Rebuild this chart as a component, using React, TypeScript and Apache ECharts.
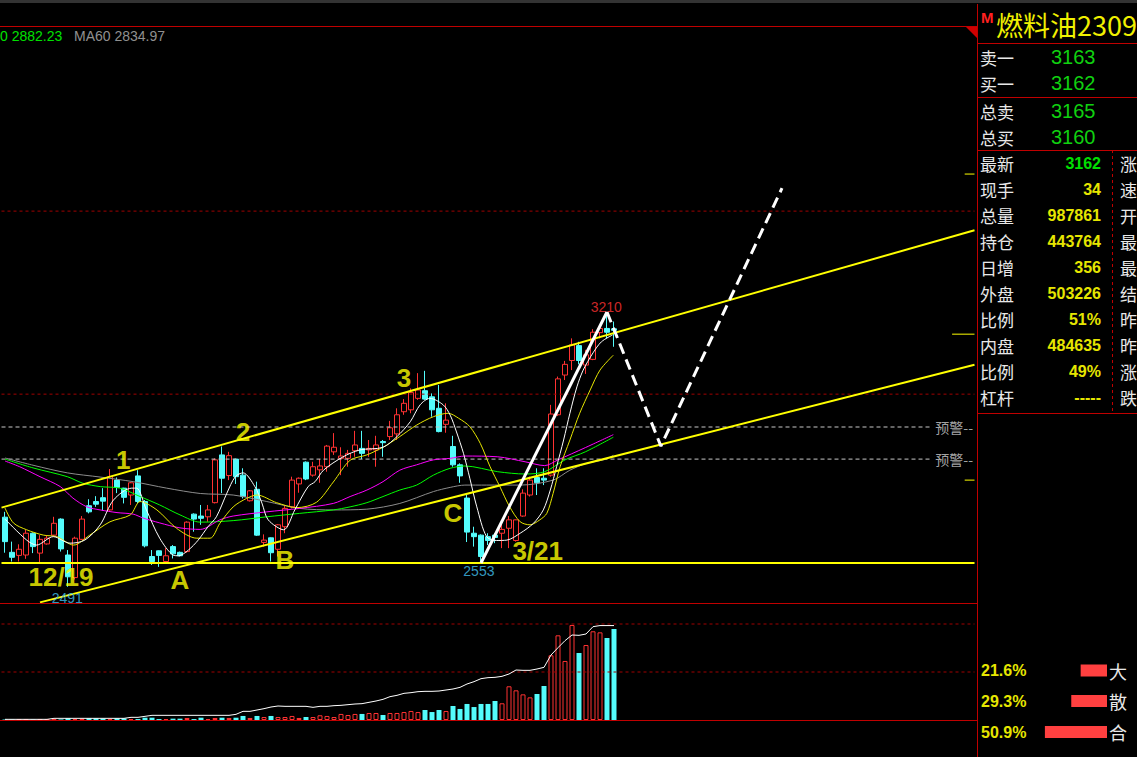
import React, { useEffect, useRef } from "react";
import * as echarts from "echarts";

// ---------- DATA ----------
// K-line candles: [open, close, low, high]
const candles: number[][] = [
  [2673, 2609, 2580, 2687], [2581, 2568, 2557, 2609], [2573, 2589, 2557, 2602], [2574, 2631, 2564, 2640],
  [2631, 2596, 2579, 2633], [2579, 2615, 2554, 2626], [2603, 2618, 2601, 2626], [2626, 2657, 2622, 2674],
  [2668, 2590, 2583, 2670], [2574, 2517, 2491, 2587], [2515, 2618, 2510, 2622], [2615, 2668, 2613, 2676],
  [2703, 2687, 2683, 2720], [2714, 2707, 2700, 2728], [2724, 2715, 2690, 2749], [2692, 2779, 2690, 2799],
  [2770, 2751, 2736, 2777], [2749, 2725, 2709, 2750], [2731, 2763, 2705, 2765], [2781, 2714, 2709, 2796],
  [2714, 2598, 2594, 2718], [2570, 2557, 2548, 2587], [2585, 2573, 2543, 2586], [2557, 2572, 2555, 2592],
  [2596, 2577, 2565, 2600], [2581, 2572, 2570, 2583], [2583, 2660, 2580, 2662], [2681, 2668, 2635, 2683],
  [2676, 2670, 2653, 2705], [2674, 2692, 2661, 2705], [2711, 2823, 2709, 2827], [2836, 2775, 2736, 2858],
  [2782, 2834, 2770, 2844], [2825, 2779, 2760, 2826], [2783, 2727, 2722, 2801], [2716, 2742, 2714, 2744],
  [2746, 2626, 2624, 2766], [2607, 2613, 2596, 2628], [2619, 2580, 2557, 2620], [2589, 2653, 2570, 2655],
  [2648, 2696, 2631, 2705], [2700, 2770, 2696, 2779], [2760, 2775, 2737, 2777], [2817, 2773, 2770, 2819],
  [2783, 2805, 2779, 2818], [2797, 2807, 2763, 2825], [2805, 2859, 2792, 2862], [2844, 2856, 2836, 2893],
  [2827, 2833, 2783, 2856], [2827, 2840, 2805, 2849], [2847, 2862, 2831, 2899], [2853, 2840, 2825, 2899],
  [2849, 2853, 2831, 2875], [2849, 2862, 2805, 2886], [2871, 2868, 2831, 2875], [2884, 2907, 2875, 2925],
  [2891, 2941, 2875, 2958], [2949, 2971, 2941, 2982], [2954, 2999, 2945, 3010], [2984, 3006, 2980, 3050],
  [3004, 2982, 2980, 3056], [2988, 2954, 2936, 2997], [2958, 2897, 2895, 3019], [2916, 2927, 2894, 2971],
  [2858, 2810, 2805, 2886], [2810, 2781, 2763, 2814], [2723, 2634, 2608, 2731], [2631, 2622, 2596, 2648],
  [2626, 2570, 2553, 2628], [2622, 2612, 2600, 2631], [2626, 2620, 2605, 2631], [2631, 2641, 2592, 2655],
  [2644, 2666, 2592, 2676], [2612, 2666, 2609, 2667], [2676, 2736, 2674, 2746], [2731, 2770, 2727, 2779],
  [2777, 2763, 2731, 2801], [2775, 2770, 2757, 2801], [2783, 2943, 2779, 2967], [2941, 3035, 2938, 3041],
  [3045, 3073, 3032, 3082], [3083, 3124, 3058, 3141], [3122, 3083, 3073, 3132], [3071, 3098, 3048, 3111],
  [3086, 3157, 3084, 3165], [3156, 3167, 3141, 3172], [3167, 3157, 3141, 3210], [3166, 3162, 3119, 3185],
];

const volumes: number[] = [
  5000, 4000, 6000, 5000, 4000, 6000, 5000, 7000, 6000, 17000,
  10000, 14000, 17000, 17000, 14000, 10000, 17000, 17000, 10000, 10000,
  24000, 24000, 10000, 10000, 14000, 14000, 21000, 10000, 24000, 10000,
  21000, 24000, 21000, 24000, 42000, 21000, 42000, 31000, 42000, 31000,
  31000, 42000, 21000, 31000, 31000, 49000, 42000, 31000, 63000, 52000,
  63000, 63000, 73000, 73000, 52000, 73000, 73000, 83000, 94000, 83000,
  104000, 83000, 104000, 94000, 146000, 115000, 167000, 135000, 167000, 167000,
  198000, 174000, 351000, 309000, 267000, 236000, 271000, 354000, 674000, 882000,
  615000, 990000, 698000, 781000, 924000, 913000, 854000, 948000,
];

const openInterest: number[] = [
  3100, 3100, 3100, 3100, 3100, 3100, 3100, 7800, 7800, 7800,
  7800, 7800, 7800, 7800, 7800, 7800, 7800, 7800, 12500, 12500,
  17200, 21900, 21900, 21900, 21900, 21900, 21900, 21900, 21900, 21900,
  21900, 21900, 21900, 26600, 40700, 40700, 47000, 53300, 61100, 65800,
  64200, 64200, 64200, 64200, 59500, 64200, 64200, 67400, 68900, 72100,
  75200, 76800, 83000, 89300, 97100, 109700, 115900, 125300, 128500, 133200,
  134700, 134700, 136300, 141000, 145700, 153500, 169200, 180200, 194300, 199000,
  200500, 205200, 216200, 235000, 233400, 233400, 239700, 247500, 305500, 340000,
  372900, 399500, 397900, 404200, 438700, 443800, 443800, 443764,
];

// moving averages: [bar index, price]
const ma5: number[][] = [
  [0, 2668], [3.1, 2613], [4.5, 2600], [6.9, 2622], [9.3, 2605], [11.4, 2613], [13.6, 2653], [15.5, 2718],
  [18.1, 2749], [18.8, 2749], [20.2, 2692], [22.1, 2618], [24, 2574], [24.8, 2572], [26.2, 2587], [27.6, 2613],
  [29, 2648], [30.2, 2674], [31.7, 2736], [32.9, 2779], [34, 2789], [35.7, 2753], [36.7, 2710], [37.6, 2666],
  [39.8, 2640], [41.4, 2692], [43.3, 2753], [44.3, 2766], [45.5, 2796], [48.3, 2831], [50.7, 2849], [54, 2856],
  [56, 2884], [57.9, 2923], [59.3, 2967], [60.7, 2984], [62.6, 2967], [63.6, 2940], [64.5, 2896], [65.5, 2840],
  [66.4, 2775], [67.4, 2700], [68.8, 2622], [70.2, 2612], [71.7, 2613], [73.6, 2631], [75.5, 2657], [76.9, 2692],
  [77.9, 2744], [78.8, 2805], [79.8, 2875], [80.7, 2945], [81.7, 3014], [82.6, 3058], [84, 3103], [85.2, 3132],
  [86.8, 3150],
];
const ma10: number[][] = [
  [0, 2697], [1.2, 2658], [3.1, 2640], [5.5, 2626], [7.4, 2622], [9.8, 2600], [12.1, 2626], [15, 2661],
  [17.9, 2679], [19.3, 2714], [21.7, 2692], [24.5, 2644], [27.4, 2618], [29.3, 2618], [30.7, 2657], [32.6, 2700],
  [34.5, 2722], [36, 2731], [38.8, 2711], [41.7, 2698], [44.5, 2712], [46.9, 2765], [49.3, 2822], [51.7, 2836],
  [54.1, 2857], [56.4, 2884], [58.8, 2914], [61.2, 2936], [63.3, 2945], [64.8, 2932], [66.4, 2910], [67.9, 2866],
  [69.3, 2805], [70.7, 2753], [72.1, 2700], [73.6, 2661], [75, 2653], [76.4, 2666], [77.4, 2683], [78.3, 2735],
  [79.3, 2805], [80.7, 2875], [82.1, 2945], [83.6, 3006], [85, 3058], [86.9, 3097],
];
const ma20: number[][] = [
  [0, 2820], [2.1, 2805], [5, 2779], [7.9, 2753], [9.7, 2723], [11.7, 2700], [13.6, 2692], [16, 2685],
  [18.3, 2681], [19.7, 2671], [22.1, 2658], [25, 2645], [27.9, 2641], [30.7, 2666], [32.6, 2676], [37.4, 2687],
  [42.1, 2696], [46.9, 2709], [49.3, 2727], [51.7, 2744], [54, 2766], [56.4, 2796], [58.8, 2810], [61.2, 2823],
  [63.6, 2827], [65.7, 2833], [70.4, 2831], [74.3, 2818], [77.1, 2808], [79, 2823], [82.9, 2855], [86.9, 2889],
];
const ma40: number[][] = [
  [0, 2825], [4, 2802], [8.9, 2779], [11.1, 2762], [13.6, 2753], [16.4, 2749], [19.3, 2727], [22.1, 2705],
  [25, 2679], [27.9, 2660], [32.6, 2664], [37.4, 2674], [42.1, 2683], [46.9, 2692], [49.3, 2700], [51.7, 2711],
  [54, 2727], [56.4, 2744], [58.8, 2757], [61.2, 2783], [63.6, 2801], [65.7, 2807], [70.4, 2792], [74.3, 2786],
  [77.1, 2792], [80, 2823], [82.9, 2844], [86.9, 2882.23],
];
const ma60: number[][] = [
  [0, 2828], [4, 2809], [8.9, 2789], [13.6, 2778], [18.3, 2766], [23.1, 2749], [27.9, 2735], [32.6, 2731],
  [37.4, 2714], [42.1, 2696], [46.9, 2692], [51.7, 2694], [56.4, 2709], [61.2, 2740], [63.6, 2751], [65.7, 2757],
  [68.8, 2757], [73.6, 2757], [78.3, 2770], [80.7, 2796], [83.1, 2814], [85.7, 2824], [86.9, 2834.97],
];

// drawn trend lines: [bar index, price]
const upperChannel: number[][] = [[-0.5, 2698], [138.5, 3424]];
const lowerChannel: number[][] = [[5, 2450], [138.5, 3072]];
const supportLine: number[][] = [[-0.5, 2553], [138.5, 2553]];
const waveUp: number[][] = [[68, 2553], [86, 3210]];
const waveForecast: number[][] = [[86, 3210], [93.7, 2859], [111, 3534]];
const warnPrices: number[] = [2909, 2825];
const gridPrices: number[] = [3474, 2995];
const volumeGridValues: number[] = [1000000, 500000];
const markerPrices: number[][] = [[137.1, 3571], [135.3, 3152], [137.1, 2770]];

const waveLabels: string[] = ["1", "2", "3", "A", "B", "C", "12/19", "3/21"];
const waveLabelPos: number[][] = [[16.9, 2823], [34, 2896], [57, 3037], [25, 2509], [40, 2561], [64, 2684], [8, 2517], [76.1, 2584]];
const extremeLabels: string[] = ["3210", "2553", "2491"];
const extremeLabelPos: number[][] = [[85.9, 3223], [67.7, 2532], [8.9, 2462]];

const legendTexts: string[] = ["0 2882.23", "MA60 2834.97"];

// quote panel
const title = "燃料油2309";
const quoteLabels: string[] = ["卖一", "买一", "总卖", "总买"];
const quoteValues: string[] = ["3163", "3162", "3165", "3160"];
const statLabels: string[] = ["最新", "现手", "总量", "持仓", "日增", "外盘", "比例", "内盘", "比例", "杠杆"];
const statValues: string[] = ["3162", "34", "987861", "443764", "356", "503226", "51%", "484635", "49%", "-----"];
const statRightLabels: string[] = ["涨", "速", "开", "最", "最", "结", "昨", "昨", "涨", "跌"];
const flowLabels: string[] = ["大", "散", "合"];
const flowValues: number[] = [21.6, 29.3, 50.9];

const N_CATS = 139;
const categories: string[] = Array.from({ length: N_CATS }, (_, i) => String(i + 1));

// ---------- STYLE ----------
const UP = "#ff3232";
const DOWN = "#54fcfc";
const YELLOW = "#ffff00";
const RED_LINE = "#c00000";
const FONT_CJK = '"Noto Sans CJK SC", "Noto Sans", sans-serif';
const FONT_NUM = '"Liberation Sans", Arial, sans-serif';

function txt(text: string, x: number, y: number, fill: string, size: number, opts: any = {}) {
  return {
    type: "text",
    x,
    y,
    silent: true,
    z: 100,
    style: {
      text,
      fill,
      font: `${opts.weight || "normal"} ${size}px ${opts.family || FONT_NUM}`,
      align: opts.align || "left",
      verticalAlign: "middle",
    },
  };
}
function ln(x1: number, y1: number, x2: number, y2: number, stroke: string, dash?: number[]) {
  return {
    type: "line",
    silent: true,
    z: 100,
    shape: { x1, y1, x2, y2 },
    style: { stroke, lineWidth: 1, lineDash: dash },
  };
}

function seg(data: number[][], color: string, width: number, type: any = "solid", xi = 1, yi = 0, smooth: any = false) {
  return {
    type: "line",
    xAxisIndex: xi,
    yAxisIndex: yi,
    data,
    symbol: "none",
    smooth,
    silent: true,
    lineStyle: { color, width, type },
  };
}

function buildOption() {
  const series: any[] = [];

  // red dashed price grid lines
  gridPrices.forEach((p) => series.push(seg([[-0.5, p], [138.5, p]], "#a00000", 1, [3, 3])));
  // volume dashed grid lines
  volumeGridValues.forEach((v) => series.push(seg([[-0.5, v], [138.5, v]], "#a00000", 1, [3, 3], 3, 1)));
  // warning dashed lines
  warnPrices.forEach((p) => series.push(seg([[-0.5, p], [132.4, p]], "#c8c8c8", 1, [4, 3])));
  // right-side yellow markers
  markerPrices.forEach(([i, p]) => series.push(seg([[i, p], [138.5, p]], YELLOW, 1)));

  series.push({
    type: "candlestick",
    xAxisIndex: 0,
    yAxisIndex: 0,
    data: candles,
    barWidth: 5,
    silent: true,
    itemStyle: { color: "#000000", color0: DOWN, borderColor: UP, borderColor0: DOWN, borderWidth: 1 },
  });

  series.push(seg(ma60, "#8c8c8c", 1, "solid", 1, 0, 0.3));
  series.push(seg(ma40, "#00ff00", 1, "solid", 1, 0, 0.3));
  series.push(seg(ma20, "#ff00ff", 1, "solid", 1, 0, 0.3));
  series.push(seg(ma10, "#e6e600", 1, "solid", 1, 0, 0.3));
  series.push(seg(ma5, "#ffffff", 1, "solid", 1, 0, 0.3));

  series.push(seg(upperChannel, YELLOW, 2));
  series.push(seg(lowerChannel, YELLOW, 2));
  series.push(seg(supportLine, YELLOW, 2));
  series.push(seg(waveUp, "#ffffff", 3));
  series.push(seg(waveForecast, "#ffffff", 3, [11, 6]));

  // volume bars
  series.push({
    type: "bar",
    xAxisIndex: 2,
    yAxisIndex: 1,
    barWidth: 5,
    silent: true,
    data: volumes.map((v, i) => ({
      value: v,
      itemStyle:
        candles[i][1] >= candles[i][0]
          ? { color: "#000000", borderColor: UP, borderWidth: 1 }
          : { color: DOWN },
    })),
  });
  // open interest line
  series.push(seg(openInterest.map((v, i) => [i, v]), "#ffffff", 1, "solid", 3, 2));

  // labels
  const labelData: any[] = [];
  waveLabels.forEach((t, k) =>
    labelData.push({
      value: waveLabelPos[k],
      name: t,
      label: { color: YELLOW, fontSize: 26, lineHeight: 22, fontWeight: "bold", fontFamily: FONT_NUM },
    })
  );
  const extremeColors = ["#ff3232", "#40c0f0", "#40c0f0"];
  extremeLabels.forEach((t, k) =>
    labelData.push({
      value: extremeLabelPos[k],
      name: t,
      label: { color: extremeColors[k], fontSize: 14, lineHeight: 12, fontFamily: FONT_NUM },
    })
  );
  warnPrices.forEach((p) =>
    labelData.push({
      value: [132.9, p],
      name: "预警--",
      label: { color: "#d0d0d0", fontSize: 14, fontFamily: FONT_CJK, align: "left" },
    })
  );
  series.push({
    type: "scatter",
    xAxisIndex: 1,
    yAxisIndex: 0,
    symbolSize: 1,
    silent: true,
    itemStyle: { color: "rgba(0,0,0,0)" },
    label: { show: true, position: "inside", formatter: (p: any) => p.name },
    data: labelData,
    z: 10,
  });

  // ---------- graphic chrome & quote panel ----------
  const g: any[] = [];
  g.push({ type: "rect", shape: { x: 0, y: 0, width: 1137, height: 3 }, style: { fill: "#333333" }, silent: true, z: 100 });
  g.push(ln(0, 26.5, 977, 26.5, RED_LINE));
  g.push(ln(0, 603.5, 977, 603.5, RED_LINE));
  g.push(ln(0, 720.5, 977, 720.5, RED_LINE));
  g.push(ln(977.5, 4, 977.5, 757, RED_LINE));
  g.push({ type: "polygon", shape: { points: [[966, 27], [977, 27], [977, 38]] }, style: { fill: "#d00000" }, silent: true, z: 100 });
  [43, 97, 150, 413].forEach((y) => g.push(ln(977, y + 0.5, 1137, y + 0.5, RED_LINE)));
  g.push(ln(1112.5, 150, 1112.5, 413, RED_LINE, [3, 3]));

  g.push(txt(legendTexts[0], 0, 36, "#00e000", 14));
  g.push(txt(legendTexts[1], 74, 36, "#909090", 14));

  g.push(txt("M", 981, 17, "#ff2020", 15, { weight: "bold" }));
  g.push(txt(title, 996, 24, "#f0f000", 27, { family: FONT_CJK }));

  const quoteY = [57, 83, 111, 137];
  quoteLabels.forEach((t, k) => {
    g.push(txt(t, 980, quoteY[k], "#e8e8e8", 17, { family: FONT_CJK }));
    g.push(txt(quoteValues[k], 1051, quoteY[k], "#10d010", 20));
  });
  statLabels.forEach((t, k) => {
    const y = 163 + 26 * k;
    g.push(txt(t, 980, y, "#e8e8e8", 17, { family: FONT_CJK }));
    g.push(txt(statValues[k], 1101, y, k === 0 ? "#00e000" : "#e6e600", 16, { weight: "bold", align: "right" }));
    g.push(txt(statRightLabels[k], 1120, y, "#e8e8e8", 17, { family: FONT_CJK }));
  });

  const flowY = [670.5, 701, 732];
  flowValues.forEach((v, k) => {
    g.push(txt(v.toFixed(1) + "%", 981, flowY[k], "#e6e600", 16, { weight: "bold" }));
    const w = v * 1.22;
    g.push({ type: "rect", shape: { x: 1107 - w, y: flowY[k] - 6, width: w, height: 12 }, style: { fill: "#ff4040" }, silent: true, z: 100 });
    g.push(txt(flowLabels[k], 1109, flowY[k], "#e8e8e8", 18, { family: FONT_CJK }));
  });

  return {
    backgroundColor: "#000000",
    animation: false,
    grid: [
      { left: 1.5, right: 162.5, top: 26, height: 577 },
      { left: 1.5, right: 162.5, top: 603, height: 117 },
    ],
    xAxis: [
      { type: "category", gridIndex: 0, data: categories, show: false, boundaryGap: true },
      { type: "value", gridIndex: 0, min: -0.5, max: 138.5, show: false },
      { type: "category", gridIndex: 1, data: categories, show: false, boundaryGap: true },
      { type: "value", gridIndex: 1, min: -0.5, max: 138.5, show: false },
    ],
    yAxis: [
      { type: "value", gridIndex: 0, min: 2448.4, max: 3958.5, show: false },
      { type: "value", gridIndex: 1, min: 0, max: 1218750, show: false },
      { type: "value", gridIndex: 1, min: 0, max: 549900, show: false },
    ],
    series,
    graphic: g,
  };
}

export default function App() {
  const ref = useRef<HTMLDivElement>(null);
  useEffect(() => {
    document.body.style.margin = "0";
    document.body.style.background = "#000";
    const chart = echarts.init(ref.current!, null, { renderer: "svg" });
    chart.setOption(buildOption() as any);
    return () => chart.dispose();
  }, []);
  return (
    <div
      ref={ref}
      style={{ position: "fixed", left: 0, top: 0, width: 1137, height: 757, background: "#000", overflow: "hidden" }}
    />
  );
}
